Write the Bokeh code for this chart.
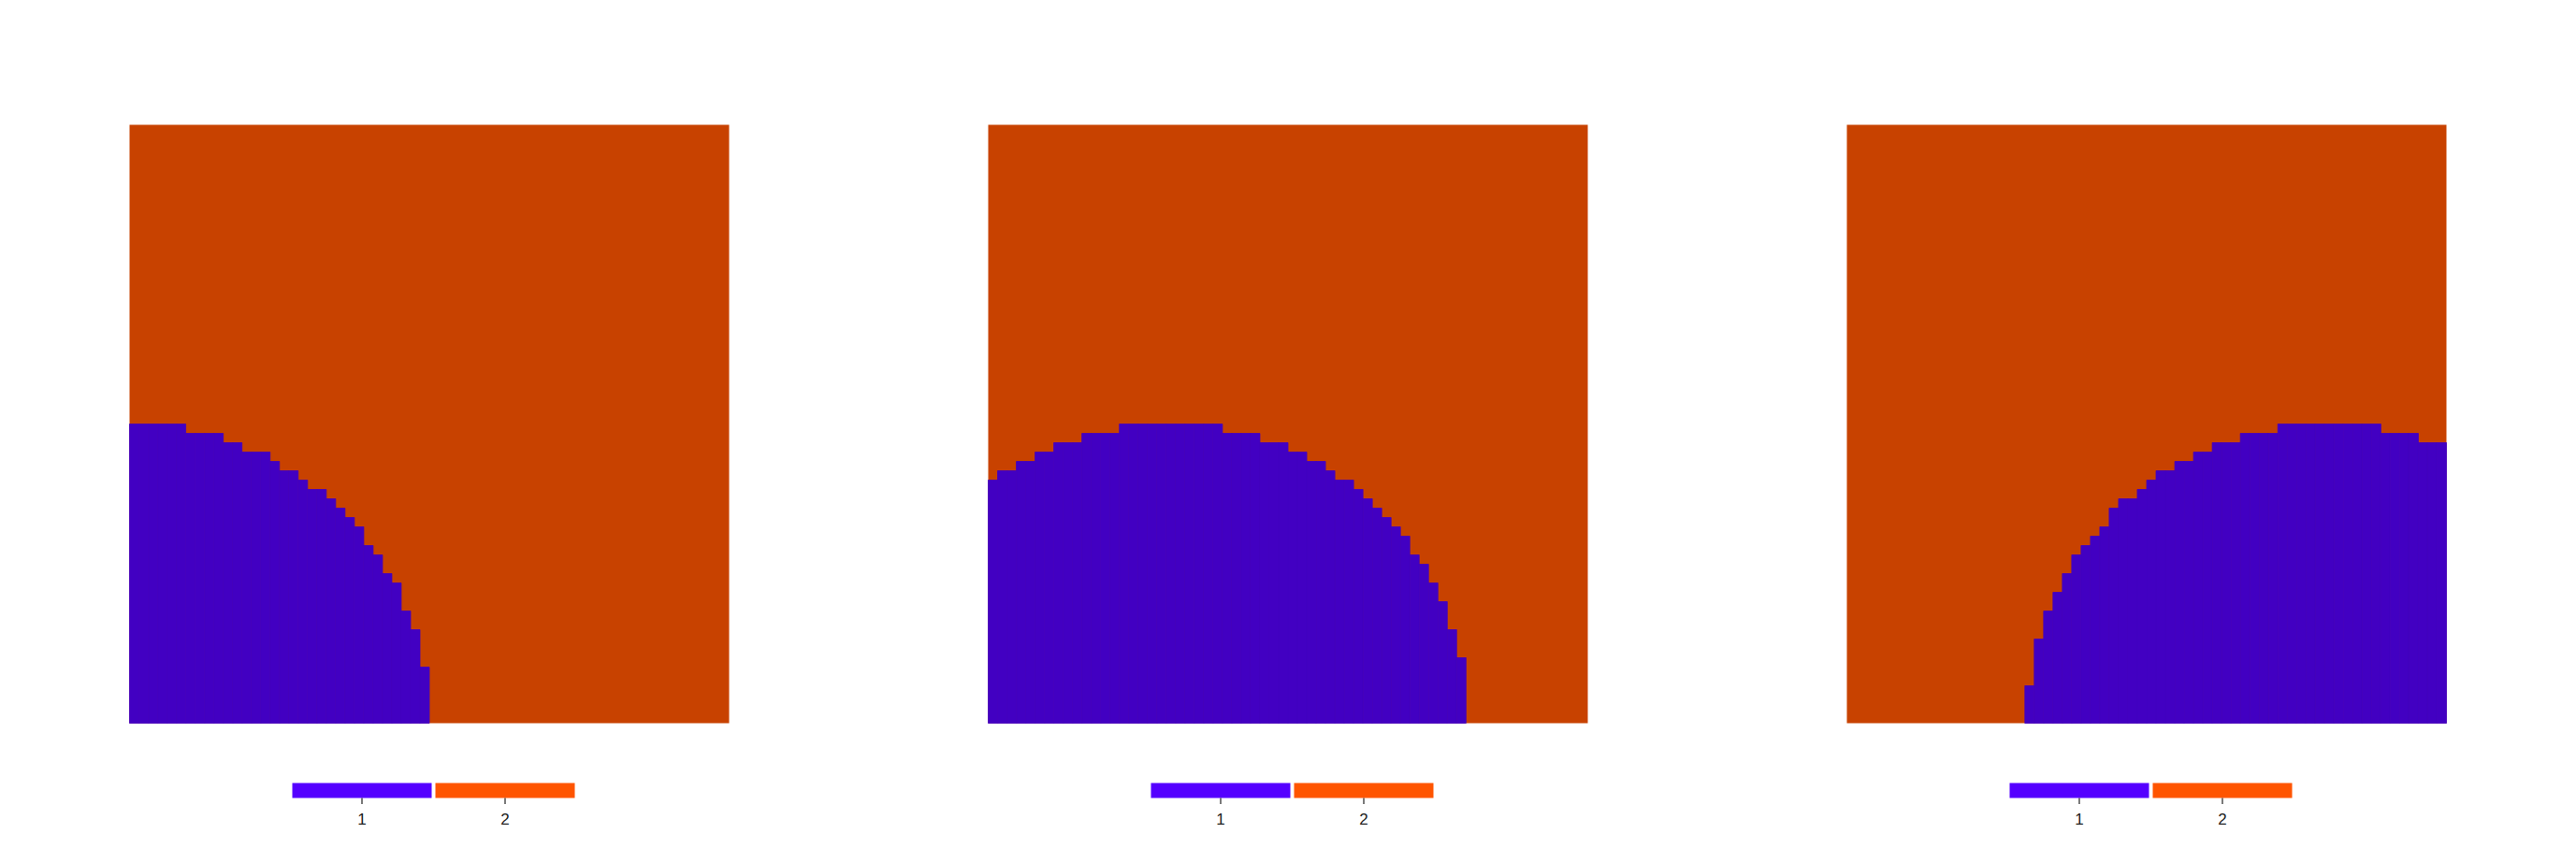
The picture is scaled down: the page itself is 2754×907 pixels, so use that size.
from bokeh.core.properties import value
from bokeh.embed import file_html
from bokeh.layouts import row
from bokeh.models import ColumnDataSource, Range1d
from bokeh.plotting import figure
from bokeh.resources import INLINE

N = 64  # cells per side of the grid

# height (in cells, from the bottom) of phase 1 in each column, per panel
left_first_col = 0
left_heights = [32, 32, 32, 32, 32, 32, 31, 31, 31, 31, 30, 30, 29, 29, 29, 28,
                27, 27, 26, 25, 25, 24, 23, 22, 21, 19, 18, 16, 15, 12, 10, 6]

mid_first_col = 0
mid_heights = [26, 27, 27, 28, 28, 29, 29, 30, 30, 30, 31, 31, 31, 31,
               32, 32, 32, 32, 32, 32, 32, 32, 32, 32, 32,
               31, 31, 31, 31, 30, 30, 30, 29, 29, 28, 28, 27, 26, 26,
               25, 24, 23, 22, 21, 20, 18, 17, 15, 13, 10, 7]

right_first_col = 19
right_heights = [4, 9, 12, 14, 16, 18, 19, 20, 21, 23, 24, 24, 25, 26, 27, 27,
                 28, 28, 29, 29, 30, 30, 30, 31, 31, 31, 31,
                 32, 32, 32, 32, 32, 32, 32, 32, 32, 32, 32,
                 31, 31, 31, 31, 30, 30, 30]

phases = ["1", "2"]
legend_colors = ["#5500ff", "#ff5500"]
shaded_colors = ["#4200c2", "#c84200"]  # lit surface colours

# layout, in pixels
FIG_W, FIG_H = 912, 890
DOM_W, DOM_H = 641, 640
DOM_TOP = 133
LEG_LEFT, LEG_BAR, LEG_GAP = 174, 149, 4
LEG_TOP, LEG_H, TICK_LEN, LABEL_BASE = 64, 16, 6.6, 102


def make_panel(first_col, heights, dom_left):
    sx = DOM_W / N
    sy = DOM_H / N
    x0 = -dom_left / sx
    y1 = N + DOM_TOP / sy
    p = figure(width=FIG_W, height=FIG_H,
               x_range=Range1d(x0, x0 + FIG_W / sx),
               y_range=Range1d(y1 - FIG_H / sy, y1),
               x_axis_location=None, y_axis_location=None,
               toolbar_location=None, output_backend="svg", min_border=0)
    p.grid.visible = False
    p.outline_line_color = None

    # phase 2 fills the domain, phase 1 columns on top
    p.quad(left=[0], right=[N], bottom=[0], top=[N],
           fill_color=shaded_colors[1], line_color=None)
    cols = [first_col + i + 0.5 for i in range(len(heights))]
    src = ColumnDataSource(dict(x=cols, top=heights))
    p.vbar(x="x", top="top", bottom=0, width=1, source=src,
           fill_color=shaded_colors[0], line_color=shaded_colors[0],
           line_width=0.8)

    # categorical colour bar
    lefts = [(LEG_LEFT + i * (LEG_BAR + LEG_GAP)) / sx for i in range(len(phases))]
    rights = [l + LEG_BAR / sx for l in lefts]
    mids = [(l + r) / 2 for l, r in zip(lefts, rights)]
    bar_top = -LEG_TOP / sy
    bar_bot = -(LEG_TOP + LEG_H) / sy
    p.quad(left=lefts, right=rights, top=bar_top, bottom=bar_bot,
           fill_color=legend_colors, line_color=None)
    p.segment(x0=mids, y0=[bar_bot] * len(mids), x1=mids,
              y1=[bar_bot - TICK_LEN / sy] * len(mids),
              line_color="#222222", line_width=1.2)
    p.text(x=mids, y=[-LABEL_BASE / sy] * len(mids), text=phases,
           text_align="center", text_baseline="alphabetic",
           text_font=value("Liberation Sans"), text_font_size="17px",
           text_color="#222222")
    return p


# the page starts at x=0, each domain sits 918 px after the previous one
p1 = make_panel(left_first_col, left_heights, 138)
p2 = make_panel(mid_first_col, mid_heights, 138 + 918 - FIG_W)
p3 = make_panel(right_first_col, right_heights, 138 + 2 * (918 - FIG_W))

p = row(p1, p2, p3)

open("out.html", "w").write(file_html(p, INLINE))
